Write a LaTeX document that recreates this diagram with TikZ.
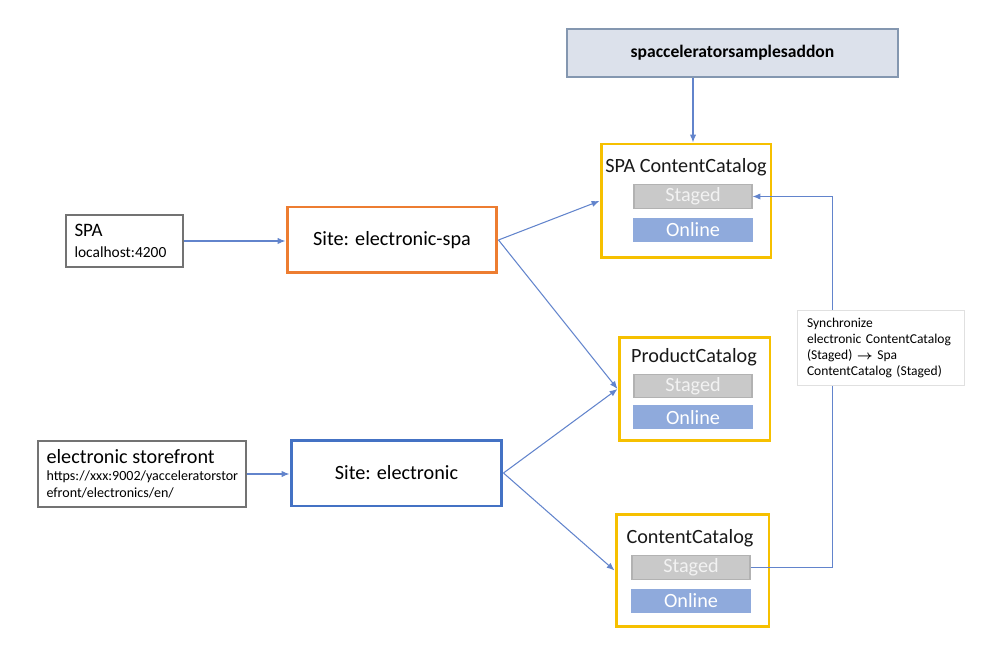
\documentclass[tikz,border=0pt]{standalone}
\usepackage{amsmath}
\usepackage{fontspec}
\setmainfont{Carlito}
\usepackage{xcolor}
\usepackage{tikz}
\usetikzlibrary{positioning,arrows.meta,calc}

\definecolor{catyellow}{RGB}{246,192,0}
\definecolor{siteorange}{RGB}{237,125,49}
\definecolor{siteblue}{RGB}{68,114,196}
\definecolor{linkblue}{RGB}{98,132,204}
\definecolor{stagedgray}{RGB}{201,201,201}
\definecolor{onlineblue}{RGB}{143,170,220}
\definecolor{addonfill}{RGB}{220,225,235}
\definecolor{addondraw}{RGB}{132,151,176}

\begin{document}
\begin{tikzpicture}[
    x=0.02cm, y=-0.02cm,
    >=Latex,
    font=\fontsize{11.5}{13.5}\selectfont,
    addon/.style={
        draw=addondraw, line width=0.8pt,
        fill=addonfill,
        minimum width=6.62cm, minimum height=0.96cm,
        font=\fontsize{10}{12}\selectfont\bfseries
    },
    catframe/.style={
        draw=catyellow, line width=1.7pt,
        fill=white,
        inner sep=0pt
    },
    cattitle/.style={
        inner sep=0pt,
        text=black!90
    },
    staged/.style={
        draw=black!30, line width=0.6pt,
        fill=stagedgray,
        minimum width=2.36cm, minimum height=0.47cm,
        inner sep=0pt,
        text=white!95!black
    },
    online/.style={
        draw=siteblue!60, line width=0.6pt,
        fill=onlineblue,
        minimum width=2.36cm, minimum height=0.46cm,
        inner sep=0pt,
        text=white
    },
    sitebox/.style={
        line width=1.7pt,
        fill=white,
        minimum width=4.2cm, minimum height=1.32cm
    },
    srcbox/.style={
        draw=black!55, line width=0.6pt,
        fill=white,
        align=left,
        inner xsep=0.17cm
    },
    syncnote/.style={
        draw=black!12, line width=0.4pt,
        fill=white,
        align=left,
        font=\fontsize{7.7}{9.1}\selectfont,
        text width=2.94cm, minimum height=1.5cm,
        inner xsep=0.2cm
    },
    link/.style={
        ->, draw=linkblue, line width=0.6pt,
        >={Latex[length=4.5pt,width=3.6pt]}
    }
]

\useasboundingbox (0,0) rectangle (989,671);

% sources
\node[srcbox, text width=2.0cm, minimum height=1.04cm,
      font=\fontsize{8.8}{12}\selectfont] (spa) at (124.5,241)
    {{\fontsize{10.8}{12}\selectfont SPA}\\
     localhost:4200};
\node[srcbox, text width=3.82cm, minimum height=1.32cm,
      font=\fontsize{8}{9.6}\selectfont] (store) at (142,474)
    {{\fontsize{11.5}{13.5}\selectfont electronic storefront}\\
     https://xxx:9002/yacceleratorstor\\
     efront/electronics/en/};

% sites
\node[sitebox, draw=siteorange] (sitespa) at (392,240) {Site: electronic-spa};
\node[sitebox, draw=siteblue, minimum width=4.22cm] (siteel) at (396.5,473) {Site: electronic};

% addon
\node[addon] (addon) at (732.5,53) {spacceleratorsamplesaddon};

% catalogs
\node[catframe, minimum width=3.4cm, minimum height=2.28cm] (spacat) at (686,201) {};
\node[cattitle] (spatitle) at (686,167) {SPA ContentCatalog};
\node[staged] (sstaged) at (693,196.5) {Staged};
\node[online, below=0.18cm of sstaged] (sonline) {Online};

\node[catframe, minimum width=3.02cm, minimum height=2.08cm] (prodcat) at (694.5,389) {};
\node[cattitle] (prodtitle) at (694,357) {ProductCatalog};
\node[staged] (pstaged) at (693,386) {Staged};
\node[online, below=0.14cm of pstaged] (ponline) {Online};

\node[catframe, minimum width=3.06cm, minimum height=2.26cm] (contcat) at (692.5,570.5) {};
\node[cattitle] (conttitle) at (690,538) {ContentCatalog};
\node[staged] (cstaged) at (691,567.5) {Staged};
\node[online, below=0.18cm of cstaged] (conline) {Online};

% connectors
\draw[link] (spa.east) -- (sitespa.west |- spa.east);
\draw[link] (store.east) -- (siteel.west |- store.east);
\draw[link] (sitespa.east) -- (spacat.west);
\draw[link] (sitespa.east) -- (prodcat.west);
\draw[link] (siteel.east) -- (prodcat.west);
\draw[link] (siteel.east) -- (contcat.west);
\draw[link] (addon.south -| sstaged) -- (sstaged |- spacat.north);
\draw[link] (cstaged.east) -- ++(82,0) |- (sstaged.east);

\node[syncnote] (sync) at (880.5,347.5)
    {Synchronize\\
     electronic ContentCatalog\\
     (Staged) {\fontsize{7}{9}\selectfont$\boldsymbol{\rightarrow}$} Spa\\
     ContentCatalog (Staged)};

\end{tikzpicture}
\end{document}
